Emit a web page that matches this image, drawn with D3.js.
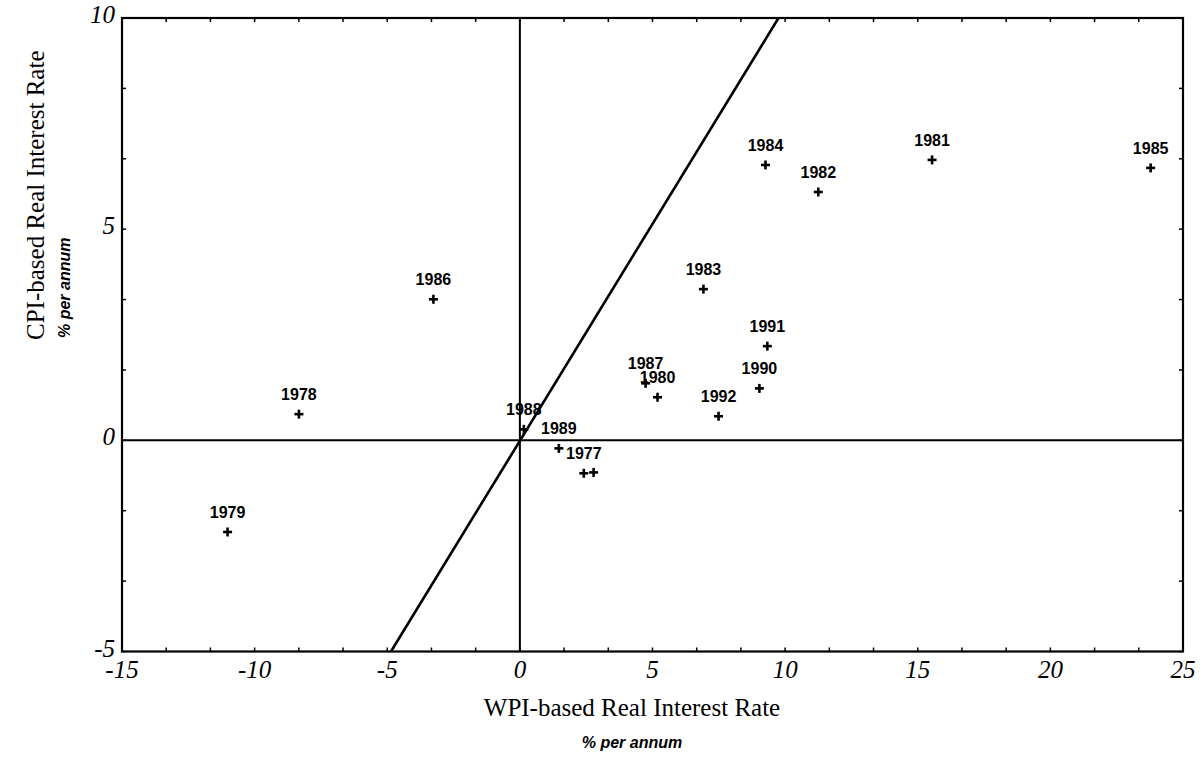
<!DOCTYPE html>
<html lang="en">
  <head>
    <meta charset="UTF-8" />
    <title>CPI vs WPI real interest rate</title>
    <script src="https://d3js.org/d3.v7.min.js"></script>
    <style>
      body { margin: 0; background: #fff; }
    </style>
  </head>

  <body>
    <svg width="1204" height="760"></svg>
    <script>
      // values
      const years = ["1977", "", "1978", "1979", "1980", "1981", "1982", "1983", "1984",
        "1985", "1986", "1987", "1988", "1989", "1990", "1991", "1992"];
      const wpiRate = [2.41, 2.78, -8.33, -11.02, 5.19, 15.54, 11.25, 6.92, 9.26,
        23.78, -3.26, 4.74, 0.15, 1.47, 9.03, 9.33, 7.49];
      const cpiRate = [-0.78, -0.76, 0.62, -2.17, 1.02, 6.64, 5.88, 3.58, 6.52,
        6.45, 3.34, 1.35, 0.26, -0.19, 1.23, 2.23, 0.57];
      const refLine = [[-4.86, -5], [9.75, 10]];
      const xTicks = [-15, -10, -5, 0, 5, 10, 15, 20, 25];
      const yTicks = [-5, 0, 5, 10];

      const svg = d3.select("svg");
      const plotL = 122, plotR = 1183, plotT = 18, plotB = 651.5;

      const x = d3.scaleLinear().domain([-15, 25]).range([plotL, plotR]);
      const y = d3.scaleLinear().domain([-5, 10]).range([plotB, plotT]);

      const points = years.map((d, i) => ({ year: d, x: wpiRate[i], y: cpiRate[i] }));

      // small inward ticks on all four sides
      const minorX = d3.range(-15, 25.01, 5 / 3);
      const minorY = d3.range(-5, 10.01, 5 / 3);
      const tk = svg.append("g").attr("stroke", "#000").attr("stroke-width", 1.5);
      tk.selectAll(".tb").data(minorX).join("line")
        .attr("x1", (d) => x(d)).attr("x2", (d) => x(d))
        .attr("y1", plotB).attr("y2", plotB - 4);
      tk.selectAll(".tt").data(minorX).join("line")
        .attr("x1", (d) => x(d)).attr("x2", (d) => x(d))
        .attr("y1", plotT).attr("y2", plotT + 4);
      tk.selectAll(".tl").data(minorY).join("line")
        .attr("y1", (d) => y(d)).attr("y2", (d) => y(d))
        .attr("x1", plotL).attr("x2", plotL + 4);
      tk.selectAll(".tr").data(minorY).join("line")
        .attr("y1", (d) => y(d)).attr("y2", (d) => y(d))
        .attr("x1", plotR).attr("x2", plotR - 4);

      // frame
      svg.append("rect")
        .attr("x", plotL).attr("y", plotT)
        .attr("width", plotR - plotL).attr("height", plotB - plotT)
        .attr("fill", "none").attr("stroke", "#000").attr("stroke-width", 2.2);

      // zero lines
      svg.append("line")
        .attr("x1", x(0)).attr("x2", x(0)).attr("y1", plotT).attr("y2", plotB)
        .attr("stroke", "#000").attr("stroke-width", 2);
      svg.append("line")
        .attr("x1", plotL).attr("x2", plotR).attr("y1", y(0)).attr("y2", y(0))
        .attr("stroke", "#000").attr("stroke-width", 2);

      // diagonal
      svg.append("path")
        .datum(refLine)
        .attr("fill", "none").attr("stroke", "#000").attr("stroke-width", 2.6)
        .attr("d", d3.line().x((d) => x(d[0])).y((d) => y(d[1])));

      // tick labels
      svg.append("g").selectAll("text").data(xTicks).join("text")
        .attr("x", (d) => x(d)).attr("y", 678)
        .attr("text-anchor", "middle")
        .attr("font-family", "Liberation Serif").attr("font-style", "italic")
        .attr("font-size", 25)
        .text((d) => d);
      svg.append("g").selectAll("text").data(yTicks).join("text")
        .attr("x", plotL - 7).attr("y", (d) => y(d) + 5)
        .attr("text-anchor", "end")
        .attr("font-family", "Liberation Serif").attr("font-style", "italic")
        .attr("font-size", 25)
        .text((d) => d);

      // markers
      const m = svg.append("g").attr("stroke", "#000").attr("stroke-width", 2.6);
      m.selectAll(".h").data(points).join("line")
        .attr("x1", (d) => x(d.x) - 4.5).attr("x2", (d) => x(d.x) + 4.5)
        .attr("y1", (d) => y(d.y)).attr("y2", (d) => y(d.y));
      m.selectAll(".v").data(points).join("line")
        .attr("x1", (d) => x(d.x)).attr("x2", (d) => x(d.x))
        .attr("y1", (d) => y(d.y) - 4.5).attr("y2", (d) => y(d.y) + 4.5);

      svg.append("g").selectAll("text").data(points).join("text")
        .attr("x", (d) => x(d.x)).attr("y", (d) => y(d.y) - 14)
        .attr("text-anchor", "middle")
        .attr("font-family", "Liberation Sans").attr("font-weight", "bold")
        .attr("font-size", 16)
        .text((d) => d.year);

      // axis titles
      const cx = 632;
      svg.append("text")
        .attr("x", cx).attr("y", 716)
        .attr("text-anchor", "middle")
        .attr("font-family", "Liberation Serif").attr("font-size", 25)
        .text("WPI-based Real Interest Rate");
      svg.append("text")
        .attr("x", cx).attr("y", 748)
        .attr("text-anchor", "middle")
        .attr("font-family", "Liberation Sans").attr("font-style", "italic")
        .attr("font-weight", "bold").attr("font-size", 16)
        .text("% per annum");

      svg.append("text")
        .attr("transform", "translate(44,340) rotate(-90)")
        .attr("font-family", "Liberation Serif").attr("font-size", 25)
        .text("CPI-based Real Interest Rate");
      svg.append("text")
        .attr("transform", "translate(70,338) rotate(-90)")
        .attr("font-family", "Liberation Sans").attr("font-style", "italic")
        .attr("font-weight", "bold").attr("font-size", 16)
        .text("% per annum");
    </script>
  </body>
</html>
